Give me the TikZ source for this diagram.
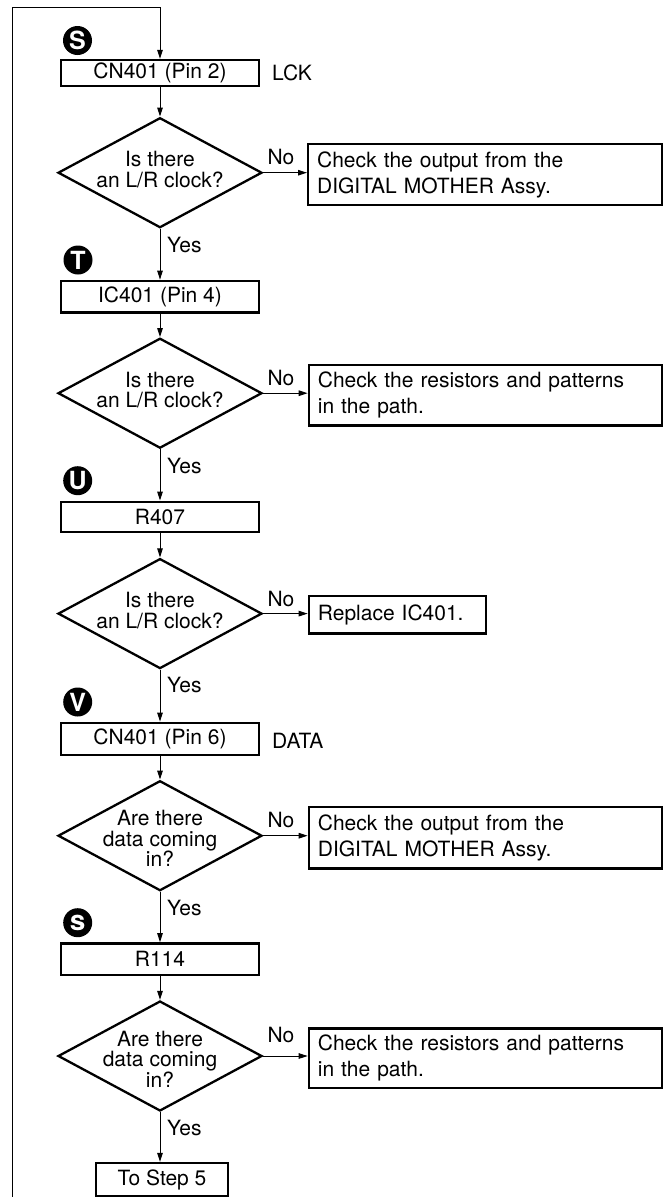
\documentclass[tikz,border=0pt]{standalone}
\usepackage{fontspec}
\setmainfont{TeX Gyre Heros}
\usetikzlibrary{shapes.geometric,arrows.meta}
\begin{document}
\begin{tikzpicture}[x=1pt,y=-1pt,
  every node/.style={font=\fontsize{21}{21}\selectfont},
  box/.style={draw,line width=2.3pt,inner sep=0pt,minimum width=198pt},
  rbox/.style={draw,line width=2.3pt,inner ysep=0pt,inner xsep=9pt,anchor=north west,align=left,font=\fontsize{21}{26}\selectfont},
  dia/.style={draw,diamond,line width=2.3pt,inner sep=0pt,minimum width=204pt,minimum height=110pt},
  dtext/.style={align=center,inner sep=0pt,font=\fontsize{21}{20.5}\selectfont},
  circ/.style={circle,fill=black,text=white,inner sep=0pt,minimum size=29pt,font=\fontsize{25}{25}\bfseries\selectfont},
  arr/.style={-{Triangle[length=9pt,width=5.5pt]},line width=1pt},
  lbl/.style={anchor=west,inner sep=0pt},
  nolbl/.style={inner sep=0pt}
]
\useasboundingbox (0,0) rectangle (670,1197);

% step markers
\node[circ] (cS) at (77.5,40.5) {S};
\node[circ] (cT) at (78,260) {T};
\node[circ] (cU) at (77.7,480.7) {U};
\node[circ] (cV) at (77.7,702) {V};
\node[circ,font=\fontsize{28}{28}\bfseries\selectfont] (cs) at (77.7,922.7) {s};

% main boxes
\node[box,minimum height=26pt] (b1) at (160,73) {CN401 (Pin 2)};
\node[box,minimum height=31.6pt] (b2) at (160,296.6) {IC401 (Pin 4)};
\node[box,minimum height=30pt] (b3) at (160,516.7) {R407};
\node[box,minimum height=32.3pt] (b4) at (160,738.9) {CN401 (Pin 6)};
\node[box,minimum height=31.7pt] (b5) at (160,959.2) {R114};
\node[box,minimum height=33pt,minimum width=132pt] (b6) at (162,1179.5) {To Step 5};

\node[lbl] (lck) at (272,73) {LCK};
\node[lbl] (data) at (272,741) {DATA};

% diamonds
\node[dia] (d1) at (160,172.7) {};
\node[dtext] at ([yshift=3pt]d1.center) {Is there\\an L/R clock?};
\node[dia] (d2) at (160,393.2) {};
\node[dtext] at ([yshift=3pt]d2.center) {Is there\\an L/R clock?};
\node[dia] (d3) at (160,613.6) {};
\node[dtext] at ([yshift=3pt]d3.center) {Is there\\an L/R clock?};
\node[dia] (d4) at (160,835.7) {};
\node[dtext] at ([yshift=-3pt]d4.center) {Are there\\data coming\\in?};
\node[dia] (d5) at (160,1056) {};
\node[dtext] at ([yshift=-3pt]d5.center) {Are there\\data coming\\in?};

% right boxes
\node[rbox,minimum height=61pt,text width=336pt] (r1) at (307,143) {Check the output from the\\DIGITAL MOTHER Assy.};
\node[rbox,minimum height=60.3pt,text width=335pt] (r2) at (307.7,364) {Check the resistors and patterns\\in the path.};
\node[rbox,minimum height=37.3pt,text width=159pt] (r3) at (307.7,595) {Replace IC401.};
\node[rbox,minimum height=61.3pt,text width=335pt] (r4) at (307.7,806) {Check the output from the\\DIGITAL MOTHER Assy.};
\node[rbox,minimum height=59.4pt,text width=335pt] (r5) at (307.7,1027.3) {Check the resistors and patterns\\in the path.};

% No labels
\node[nolbl] (n1) at (281,157) {No};
\node[nolbl] (n2) at (281,378) {No};
\node[nolbl] (n3) at (281,599) {No};
\node[nolbl] (n4) at (281,820) {No};
\node[nolbl] (n5) at (281,1035) {No};

% Yes labels
\node[lbl] (y1) at (167,245) {Yes};
\node[lbl] (y2) at (167,466) {Yes};
\node[lbl] (y3) at (167,685) {Yes};
\node[lbl] (y4) at (167,908) {Yes};
\node[lbl] (y5) at (167,1128) {Yes};

% frame loop
\coordinate (f0) at (12,1197);
\coordinate (f1) at (12,7);
\coordinate (f2) at (160,7);
\draw[arr] (f0) -- (f1) -- (f2) -- (b1.north);

% vertical connectors
\draw[arr] (b1.south) -- (d1.north);
\draw[arr] (d1.south) -- (b2.north);
\draw[arr] (b2.south) -- (d2.north);
\draw[arr] (d2.south) -- (b3.north);
\draw[arr] (b3.south) -- (d3.north);
\draw[arr] (d3.south) -- (b4.north);
\draw[arr] (b4.south) -- (d4.north);
\draw[arr] (d4.south) -- (b5.north);
\draw[arr] (b5.south) -- (d5.north);
\draw[arr] (d5.south) -- (d5.south |- b6.north);

% horizontal connectors
\draw[arr] (d1.east) -- (d1.east -| r1.west);
\draw[arr] (d2.east) -- (d2.east -| r2.west);
\draw[arr] (d3.east) -- (d3.east -| r3.west);
\draw[arr] (d4.east) -- (d4.east -| r4.west);
\draw[arr] (d5.east) -- (d5.east -| r5.west);
\end{tikzpicture}
\end{document}
